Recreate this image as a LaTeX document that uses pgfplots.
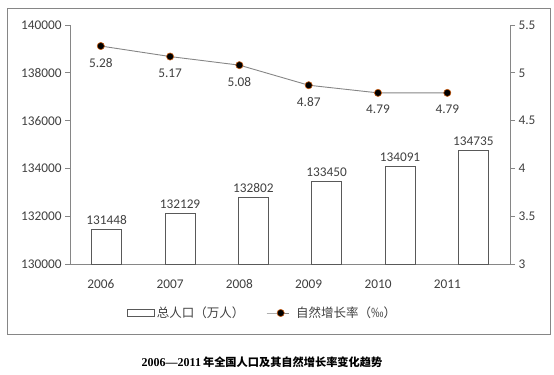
\documentclass[border=0pt]{standalone}
\usepackage{fontspec}
\setmainfont{Carlito}
\newfontfamily\cjk{Noto Sans CJK SC}
\newfontfamily\titlenum{Liberation Serif}
\usepackage{pgfplots}
\pgfplotsset{compat=1.18}
\definecolor{txt}{HTML}{404040}
\definecolor{axl}{HTML}{868686}
\definecolor{barl}{HTML}{595959}
\definecolor{mk}{HTML}{C55A11}
\pgfplotsset{
  mylinelegend/.style={legend image code/.code={\draw[##1, mark repeat=2, mark phase=2] plot coordinates {(0bp,0bp) (14bp,0bp) (22bp,0bp)};}},
  mybarlegend/.style={legend image code/.code={\draw[barl, line width=0.9bp, fill=white] (0bp,-3.5bp) rectangle (27bp,3.5bp);}},
  base/.style={
    scale only axis, width=440bp, height=239bp,
    at={(70bp,110bp)}, anchor=south west,
    xmin=0, xmax=6,
    font=\fontsize{13.3bp}{16bp}\selectfont,
    /pgf/number format/assume math mode=true,
    ticklabel style={color=txt},
    axis line style={axl, line width=0.9bp},
    major tick style={axl, line width=0.9bp},
    tick align=outside, major tick length=5bp,
  }
}
\begin{document}
\begin{tikzpicture}[x=1bp,y=1bp]
\useasboundingbox (0,0) rectangle (554,374);
\draw[axl, line width=0.9bp] (7,40) rectangle (550,366);
\begin{axis}[base,
  axis x line*=bottom, axis y line*=left,
  ymin=130000, ymax=140000, ytick={130000,132000,...,140000},
  scaled y ticks=false,
  yticklabel style={/pgf/number format/.cd, fixed, precision=0, 1000 sep={}},
  xtick={0.42,1.365,2.31,3.255,4.2,5.145},
  xticklabels={2006,2007,2008,2009,2010,2011},
  x tick style={draw=none},
  xticklabel style={yshift=-7bp},
  clip=false,
]
\addplot[ybar, bar width=30bp, fill=white, draw=barl, line width=0.9bp,
  nodes near coords, nodes near coords align={vertical},
  every node near coord/.append style={color=txt, /pgf/number format/.cd, fixed, precision=0, 1000 sep={}, /tikz/yshift=1bp}]
  coordinates {(0.5,131448) (1.5,132129) (2.5,132802) (3.5,133450) (4.5,134091) (5.5,134735)};
\end{axis}
\begin{axis}[base,
  axis x line=none, axis y line*=right,
  ymin=3, ymax=5.5, ytick={3,3.5,...,5.5},
  yticklabel style={/pgf/number format/.cd, fixed, precision=1},
  legend columns=2,
  legend style={draw=none, fill=none, at={(0.4375,-0.205)}, anchor=center,
    font=\cjk\fontsize{12.5bp}{15bp}\selectfont, text=txt,
    /tikz/every even column/.append style={column sep=20bp},
    nodes={inner sep=2bp}},
  legend cell align=left,
]
\addlegendimage{mybarlegend}
\addlegendentry{总人口（万人）}
\addplot[color=axl, line width=0.9bp, mark=*, mark size=3.6bp,
  mark options={fill=black, draw=mk, line width=0.6bp},
  nodes near coords, every node near coord/.append style={anchor=north, yshift=-8.5bp, color=txt, font=\fontsize{13.3bp}{16bp}\selectfont, /pgf/number format/.cd, fixed, fixed zerofill, precision=2},
  mylinelegend]
  coordinates {(0.42,5.28) (1.365,5.17) (2.31,5.08) (3.255,4.87) (4.2,4.79) (5.145,4.79)};
\addlegendentry{\hspace{5bp}自然增长率（‰）}
\end{axis}
\node[font=\fontsize{12bp}{14bp}\selectfont, text=black, inner sep=0] at (262,12)
  {{\titlenum\bfseries 2006—2011}\,{\cjk\bfseries\fontsize{11.2bp}{14bp}\selectfont 年全国人口及其自然增长率变化趋势}};
\end{tikzpicture}
\end{document}
